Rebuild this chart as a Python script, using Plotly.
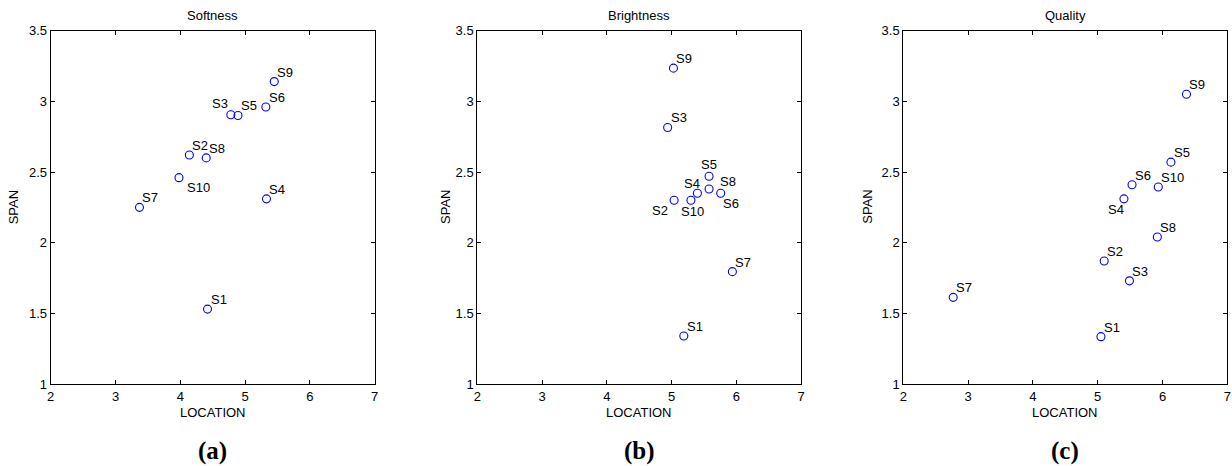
import plotly.graph_objects as go

labels = ["S1", "S2", "S3", "S4", "S5", "S6", "S7", "S8", "S9", "S10"]

soft_x = [4.42, 4.14, 4.78, 5.33, 4.89, 5.32, 3.37, 4.40, 5.45, 3.98]
soft_y = [1.53, 2.62, 2.905, 2.31, 2.90, 2.96, 2.25, 2.60, 3.14, 2.46]

bright_x = [5.19, 5.04, 4.94, 5.40, 5.58, 5.76, 5.94, 5.58, 5.03, 5.30]
bright_y = [1.34, 2.30, 2.815, 2.35, 2.47, 2.35, 1.795, 2.38, 3.235, 2.30]

qual_x = [5.05, 5.10, 5.49, 5.405, 6.13, 5.53, 2.77, 5.92, 6.37, 5.935]
qual_y = [1.335, 1.87, 1.73, 2.31, 2.57, 2.41, 1.613, 2.04, 3.05, 2.394]

titles = ["Softness", "Brightness", "Quality"]
panel_tags = ["(a)", "(b)", "(c)"]
x_ticks = [2, 3, 4, 5, 6, 7]
y_ticks = [1, 1.5, 2, 2.5, 3, 3.5]

# label placement styles: (xanchor, xshift px, yshift px)
STD = ("left", 1, 9.5)
label_styles = [
    [STD, STD, ("right", -1, 11), STD, STD, STD, STD, STD, STD, ("left", 6, -9.5)],
    [STD, ("right", -4, -10), STD, ("right", 5, 10), ("center", 0, 11.5),
     ("left", 0, -10.5), STD, ("left", 9, 7), STD, ("center", 2, -11.5)],
    [STD, STD, STD, ("right", 2, -11), STD, STD, STD, STD, STD, STD],
]

W, H = 1232, 466
x_dom_px = [(50.7, 374.7), (477.3, 801.0), (903.3, 1227.3)]
y_dom_px = (30.7, 384.0)
span_x_px = [13.3, 445.0, 866.7]

FONT = "Liberation Sans, Arial, Helvetica, sans-serif"

fig = go.Figure()
datasets = [(soft_x, soft_y), (bright_x, bright_y), (qual_x, qual_y)]
annotations = []

for i, (xs, ys) in enumerate(datasets):
    n = "" if i == 0 else str(i + 1)
    fig.add_trace(go.Scatter(
        x=xs, y=ys, mode="markers",
        marker=dict(symbol="circle-open", size=8, color="#0000FF",
                    line=dict(width=1.1, color="#0000FF")),
        xaxis="x" + n, yaxis="y" + n, showlegend=False, hoverinfo="skip",
        cliponaxis=False,
    ))
    for lab, xv, yv, (xa, xs_, ys_) in zip(labels, xs, ys, label_styles[i]):
        annotations.append(dict(
            x=xv, y=yv, xref="x" + n, yref="y" + n, text=lab, showarrow=False,
            xanchor=xa, yanchor="middle", xshift=xs_, yshift=ys_,
            font=dict(family=FONT, size=13, color="black"),
        ))
    x0, x1 = x_dom_px[i]
    cx = (x0 + x1) / 2 / W
    annotations.append(dict(x=cx, y=1 - 15.3 / H, xref="paper", yref="paper",
                            text=titles[i], showarrow=False, xanchor="center",
                            yanchor="middle",
                            font=dict(family=FONT, size=13, color="black")))
    annotations.append(dict(x=cx, y=1 - 412.7 / H, xref="paper", yref="paper",
                            text="LOCATION", showarrow=False, xanchor="center",
                            yanchor="middle",
                            font=dict(family=FONT, size=13, color="black")))
    annotations.append(dict(x=span_x_px[i] / W, y=1 - 207 / H, xref="paper",
                            yref="paper", text="SPAN", showarrow=False,
                            textangle=-90, xanchor="center", yanchor="middle",
                            font=dict(family=FONT, size=13, color="black")))
    annotations.append(dict(x=cx, y=1 - 450.7 / H, xref="paper", yref="paper",
                            text="<b>" + panel_tags[i] + "</b>", showarrow=False,
                            xanchor="center", yanchor="middle",
                            font=dict(family="Liberation Serif, Times New Roman, serif",
                                      size=25, color="black")))

    axis_common = dict(showline=True, linecolor="black", linewidth=1, mirror="ticks",
                       ticks="inside", ticklen=4, tickcolor="black", tickwidth=1,
                       showgrid=False, zeroline=False, automargin=False,
                       tickfont=dict(family=FONT, size=13, color="black"))
    fig.update_layout(**{
        "xaxis" + n: dict(domain=[x0 / W, x1 / W], range=[2, 7], tickvals=x_ticks,
                          anchor="y" + n, **axis_common),
        "yaxis" + n: dict(domain=[1 - y_dom_px[1] / H, 1 - y_dom_px[0] / H],
                          range=[1, 3.5], tickvals=y_ticks, anchor="x" + n,
                          **axis_common),
    })

fig.update_layout(
    width=W, height=H, margin=dict(l=0, r=0, t=0, b=0, autoexpand=False),
    paper_bgcolor="white", plot_bgcolor="white",
    annotations=annotations, showlegend=False,
)

fig.write_html("out.html",
               config={"displayModeBar": False, "staticPlot": True},
               post_script="document.body.style.margin='0px';"
                           "document.body.style.padding='0px';"
                           "document.body.style.overflow='hidden';")
